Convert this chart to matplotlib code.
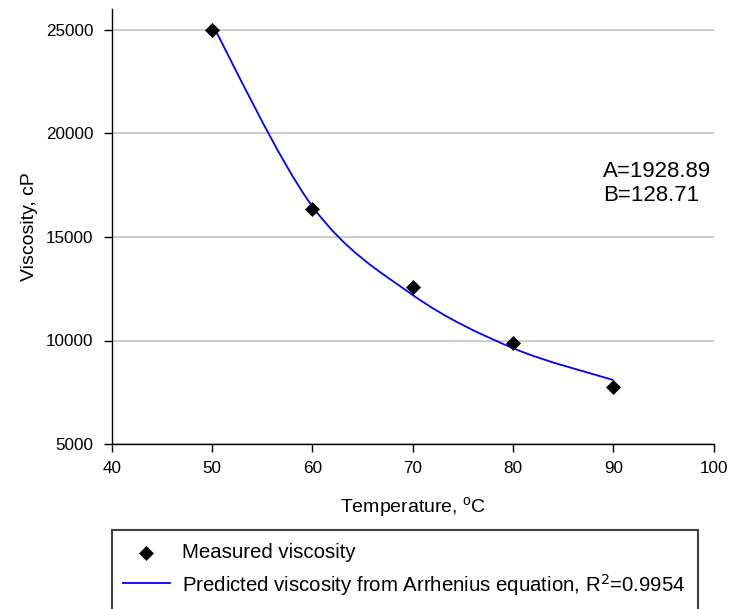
import matplotlib
matplotlib.use("Agg")
import matplotlib.pyplot as plt
from matplotlib.path import Path
from matplotlib.patches import PathPatch, Rectangle
from matplotlib.lines import Line2D
import numpy as np

plt.rcParams['font.family'] = ['Liberation Sans', 'DejaVu Sans']

# ---- data ----
temperature = [50, 60, 70, 80, 90]
measured_viscosity = [25000, 16350, 12600, 9870, 7740]
predicted_viscosity = [25290, 16480, 12200, 9630, 8090]
x_ticks = [40, 50, 60, 70, 80, 90, 100]
y_ticks = [5000, 10000, 15000, 20000, 25000]
param_text = "A=1928.89\nB=128.71"
legend_labels = ["Measured viscosity",
                 "Predicted viscosity from Arrhenius equation, R$^{2}$=0.9954"]

W, H = 730, 609
fig = plt.figure(figsize=(W / 100, H / 100), dpi=100)
ax = fig.add_axes([111.7 / W, 1 - 444 / H, (713.7 - 111.7) / W, (444 - 9.3) / H])

ax.set_xlim(40, 100)
ax.set_ylim(5000, 26000)
ax.set_xticks(x_ticks)
ax.set_yticks(y_ticks)
ax.tick_params(axis='both', direction='out', length=6, width=1, labelsize=12.3,
               color='black')
ax.tick_params(axis='y', pad=7)
ax.tick_params(axis='x', pad=6)
for s in ['top', 'right']:
    ax.spines[s].set_visible(False)
for s in ['left', 'bottom']:
    ax.spines[s].set_linewidth(1.0)
    ax.spines[s].set_color('black')
ax.yaxis.grid(True, color='#c8c8c8', linewidth=1.3)
ax.set_axisbelow(True)

# smoothed (Excel-style) curve through predicted values
px = np.asarray(temperature, float)
py = np.asarray(predicted_viscosity, float)
verts = [(px[0], py[0])]
codes = [Path.MOVETO]
n = len(px)
for i in range(n - 1):
    p0 = np.array([px[max(i - 1, 0)], py[max(i - 1, 0)]])
    p1 = np.array([px[i], py[i]])
    p2 = np.array([px[i + 1], py[i + 1]])
    p3 = np.array([px[min(i + 2, n - 1)], py[min(i + 2, n - 1)]])
    c1 = p1 + (p2 - p0) / 6.0
    c2 = p2 - (p3 - p1) / 6.0
    verts += [tuple(c1), tuple(c2), tuple(p2)]
    codes += [Path.CURVE4] * 3
ax.add_patch(PathPatch(Path(verts, codes), facecolor='none',
                       edgecolor='#0000ff', linewidth=1.3, zorder=3))

ax.plot(temperature, measured_viscosity, linestyle='none', marker='D',
        markersize=7.5, color='black', markeredgewidth=0.5, zorder=4)

ax.text(88.97, 17585, param_text, fontsize=16, ha='left', va='center',
        linespacing=1.22)

ax.set_xlabel("Temperature, $^{\\mathregular{o}}$C", fontsize=14, labelpad=14)
ax.set_ylabel("Viscosity, cP", fontsize=14, labelpad=6)

# legend box (drawn manually to match reference layout)
fig.patches.append(Rectangle((112 / W, -0.05), (698 - 112) / W, 1 - 530 / H + 0.05,
                             transform=fig.transFigure, fill=False,
                             edgecolor='#404040', linewidth=1.5))
fig.lines.append(Line2D([146 / W], [1 - 553 / H], marker='D', markersize=7.5,
                        color='black', markeredgewidth=0.5, linestyle='none',
                        transform=fig.transFigure))
fig.lines.append(Line2D([123 / W, 170 / W], [1 - 583 / H, 1 - 583 / H],
                        color='#0000ff', linewidth=1.3, transform=fig.transFigure))
fig.text(181.7 / W, 1 - 553 / H, legend_labels[0], fontsize=14.7, va='center', ha='left')
fig.text(181.7 / W, 1 - 585 / H, legend_labels[1], fontsize=14.7, va='center', ha='left')

fig.savefig("out.png", dpi=100)
